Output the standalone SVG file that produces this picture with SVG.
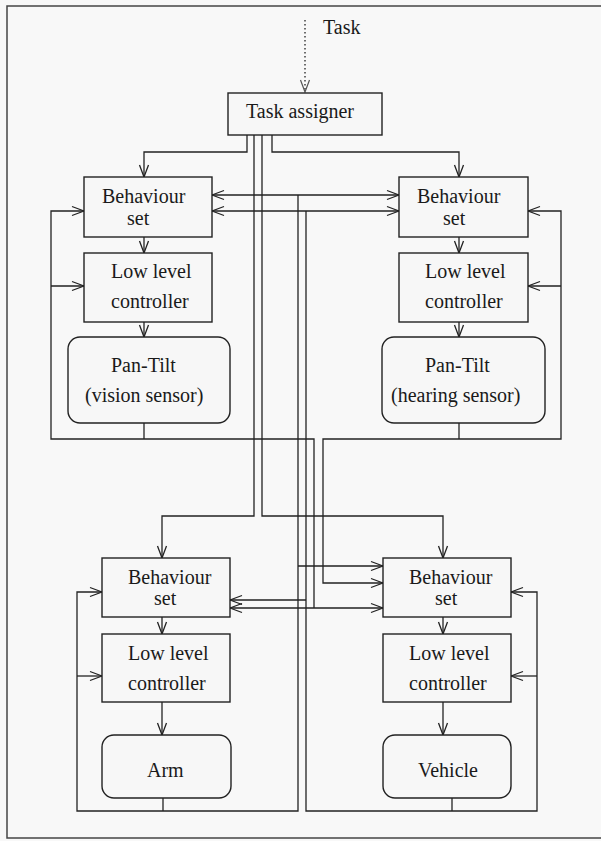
<svg xmlns="http://www.w3.org/2000/svg" width="601" height="841" viewBox="0 0 601 841">
<defs>
<style>
.bx{fill:#f7f7f7;stroke:#222;stroke-width:1.4}
.t{font-family:"Liberation Serif","Times New Roman",serif;font-size:20px;fill:#1a1a1a}
.c{fill:none;stroke:#222;stroke-width:1.3}
.a{marker-end:url(#ah)}
.s{marker-start:url(#ah)}
</style>
<marker id="ah" markerWidth="14" markerHeight="12" viewBox="-13 -6 14 12" refX="0" refY="0" orient="auto-start-reverse" markerUnits="userSpaceOnUse">
<path d="M-12,-4.5 L0,0 L-12,4.5" fill="none" stroke="#222" stroke-width="1.3"/>
</marker>
<marker id="ahg" markerWidth="14" markerHeight="12" viewBox="-13 -6 14 12" refX="0" refY="0" orient="auto" markerUnits="userSpaceOnUse">
<path d="M-12,-4.5 L0,0 L-12,4.5" fill="none" stroke="#555" stroke-width="1.2"/>
</marker>
</defs>
<rect x="0" y="0" width="601" height="841" fill="#f8f8f8"/>
<path d="M610,6 H7 V838 H610" fill="none" stroke="#444" stroke-width="1.5"/>

<g id="connectors">
<path class="c" d="M305,20 V92" stroke="#999" stroke-dasharray="1.5,2.5" marker-end="url(#ahg)"/>
<path class="c a" d="M247,135 V152 H144 V177"/>
<path class="c a" d="M272,135 V152 H459 V177"/>
<path class="c a" d="M254,135 V516 H162 V558"/>
<path class="c a" d="M262,135 V516 H443 V558"/>
<path class="c a" d="M144,237 V253"/>
<path class="c a" d="M144,322 V337"/>
<path class="c a" d="M459,237 V253"/>
<path class="c a" d="M459,322 V337"/>
<path class="c a" d="M162,617 V634"/>
<path class="c a" d="M162,702 V735"/>
<path class="c a" d="M443,617 V634"/>
<path class="c a" d="M443,702 V735"/>
<!-- upper-left loop (vision) -->
<path class="c" d="M144,423 V439"/>
<path class="c a" d="M314,608 V439 H51 V211 H84"/>
<path class="c a" d="M51,286 H84"/>
<!-- upper-right loop (hearing) -->
<path class="c" d="M459,423 V439"/>
<path class="c a s" d="M383,583 H323 V439 H561 V211 H528"/>
<path class="c a" d="M561,286 H528"/>
<!-- lower-left loop (arm) -->
<path class="c" d="M163,798 V811"/>
<path class="c a" d="M298,195 V811 H77 V592 H102"/>
<path class="c a" d="M77,676 H102"/>
<path class="c a" d="M298,566 H383"/>
<!-- lower-right loop (vehicle) -->
<path class="c" d="M452,798 V811"/>
<path class="c a" d="M306,211 V811 H537 V592 H511"/>
<path class="c a" d="M537,676 H511"/>
<path class="c a" d="M306,600 H230"/>
<!-- double arrows -->
<path class="c a s" d="M212,195 H399"/>
<path class="c a s" d="M212,211 H399"/>
<path class="c a s" d="M230,608 H383"/>
</g>

<text class="t" x="323" y="34">Task</text>

<g id="task-assigner">
<rect class="bx" x="228" y="93" width="154" height="42"/>
<text class="t" x="246" y="118">Task assigner</text>
</g>

<g id="behaviour-tl">
<rect class="bx" x="84" y="177" width="128" height="60"/>
<text class="t" x="102" y="203">Behaviour</text>
<text class="t" x="127" y="225">set</text>
</g>
<g id="lowlevel-tl">
<rect class="bx" x="84" y="253" width="128" height="69"/>
<text class="t" x="111" y="278">Low level</text>
<text class="t" x="111" y="308">controller</text>
</g>
<g id="pantilt-vision">
<rect class="bx" x="68" y="337" width="162" height="86" rx="12"/>
<text class="t" x="111" y="372">Pan-Tilt</text>
<text class="t" x="85" y="402">(vision sensor)</text>
</g>

<g id="behaviour-tr">
<rect class="bx" x="399" y="177" width="129" height="60"/>
<text class="t" x="417" y="203">Behaviour</text>
<text class="t" x="443" y="225">set</text>
</g>
<g id="lowlevel-tr">
<rect class="bx" x="399" y="253" width="129" height="69"/>
<text class="t" x="425" y="278">Low level</text>
<text class="t" x="425" y="308">controller</text>
</g>
<g id="pantilt-hearing">
<rect class="bx" x="382" y="337" width="163" height="86" rx="12"/>
<text class="t" x="425" y="372">Pan-Tilt</text>
<text class="t" x="391" y="402">(hearing sensor)</text>
</g>

<g id="behaviour-bl">
<rect class="bx" x="102" y="558" width="128" height="59"/>
<text class="t" x="128" y="584">Behaviour</text>
<text class="t" x="154" y="605">set</text>
</g>
<g id="lowlevel-bl">
<rect class="bx" x="102" y="634" width="128" height="68"/>
<text class="t" x="128" y="660">Low level</text>
<text class="t" x="128" y="690">controller</text>
</g>
<g id="arm">
<rect class="bx" x="102" y="735" width="129" height="63" rx="12"/>
<text class="t" x="147" y="777">Arm</text>
</g>

<g id="behaviour-br">
<rect class="bx" x="383" y="558" width="128" height="59"/>
<text class="t" x="409" y="584">Behaviour</text>
<text class="t" x="435" y="605">set</text>
</g>
<g id="lowlevel-br">
<rect class="bx" x="383" y="634" width="128" height="68"/>
<text class="t" x="409" y="660">Low level</text>
<text class="t" x="409" y="690">controller</text>
</g>
<g id="vehicle">
<rect class="bx" x="383" y="735" width="128" height="63" rx="12"/>
<text class="t" x="418" y="777">Vehicle</text>
</g>
</svg>
